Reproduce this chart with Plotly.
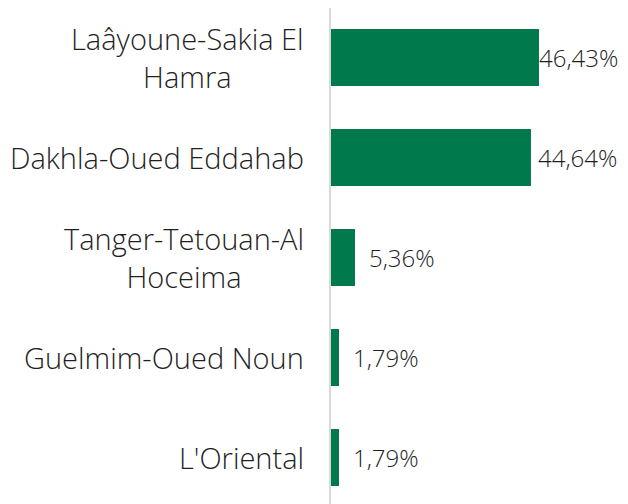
import plotly.graph_objects as go

regions = ["Laâyoune-Sakia El<br>Hamra", "Dakhla-Oued Eddahab",
           "Tanger-Tetouan-Al<br>Hoceima", "Guelmim-Oued Noun", "L'Oriental"]
shares = [46.43, 44.64, 5.36, 1.79, 1.79]
labels = ["46,43%", "44,64%", "5,36%", "1,79%", "1,79%"]

GREEN = "#007A4D"
FONT = "Open Sans"
TEXT = "#1f1f1f"

W, H = 620, 496   # page body adds an 8px margin, so the figure is 8px smaller than the window
LEFT = 323
XMAX = 66.3
px_per_unit = (W - LEFT) / XMAX

fig = go.Figure()
fig.add_trace(go.Bar(
    x=shares,
    y=list(range(len(regions))),
    orientation="h",
    marker=dict(color=GREEN, line=dict(width=0)),
    width=0.57,
    hoverinfo="skip",
))

# category labels as annotations so wrapped lines are centred
for i, name in enumerate(regions):
    fig.add_annotation(
        x=0, y=i, xref="x", yref="y",
        text=name, showarrow=False,
        xanchor="right", xshift=-25, align="center",
        font=dict(family=FONT, size=29, color=TEXT, weight=300),
    )

# value labels, centred a little past the bar end (like Excel's outside end),
# pulled back in when they would run off the right edge
for i, (v, lab) in enumerate(zip(shares, labels)):
    bar_end = LEFT + v * px_per_unit
    shift = min(47, W - 50 - bar_end)
    fig.add_annotation(
        x=v, y=i, xref="x", yref="y",
        text=lab, showarrow=False,
        xanchor="center", xshift=shift,
        font=dict(family=FONT, size=24, color=TEXT, weight=300),
    )

fig.update_layout(
    width=W, height=H,
    margin=dict(l=LEFT, r=0, t=0, b=0),
    paper_bgcolor="white", plot_bgcolor="white",
    showlegend=False,
    xaxis=dict(range=[0, XMAX], visible=False, fixedrange=True),
    yaxis=dict(range=[4.465, -0.495], showticklabels=False, showgrid=False,
               zeroline=False, showline=True, linecolor="#d9d9d9", linewidth=2,
               ticks=""),
)

fig.write_html("out.html")
